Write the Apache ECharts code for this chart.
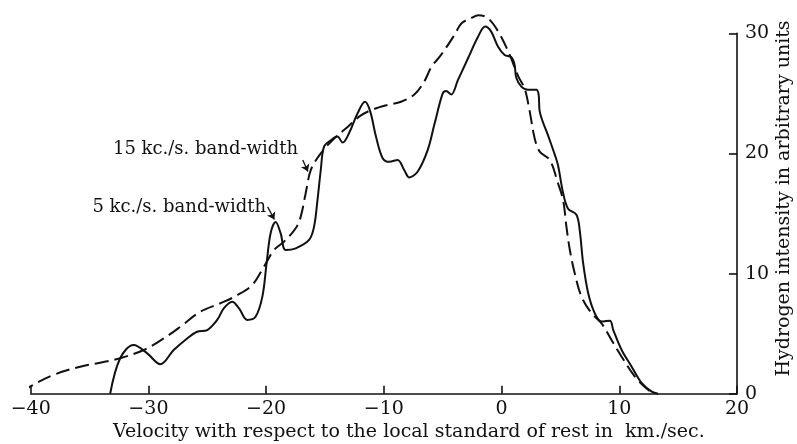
<!DOCTYPE html>
<html>
<head>
<meta charset="utf-8">
<script src="https://cdn.jsdelivr.net/npm/echarts@6/dist/echarts.min.js"></script>
<style>html,body{margin:0;padding:0;background:#fff}#c{width:797px;height:444px}</style>
</head>
<body>
<div id="c"></div>
<script>
// 5 kc./s. band-width (solid)
const solidX = [-33.25,-32.4,-31.26,-30.1,-28.99,-27.85,-26.71,-25.86,-25.0,-24.16,-23.6,-22.88,-22.3,-21.6,-20.9,-20.32,-19.96,-19.62,-19.19,-18.77,-18.34,-17.49,-16.35,-15.93,-15.64,-15.36,-15.08,-14.5,-13.94,-13.5,-12.95,-12.23,-11.6,-11.16,-10.67,-10.1,-9.54,-8.83,-8.26,-7.84,-7.12,-6.27,-5.71,-5.0,-4.71,-4.28,-3.71,-2.86,-2.01,-1.39,-0.88,-0.31,0.26,0.83,1.1,1.25,1.68,2.25,2.96,3.15,3.24,3.95,4.52,4.8,5.23,5.65,6.36,6.64,6.93,7.36,7.92,8.49,9.2,9.49,10.2,11.05,11.91,12.76,13.3];
const solidY = [0,2.95,4.05,3.36,2.45,3.64,4.6,5.16,5.3,6.14,7.1,7.66,7.1,6.14,6.4,8.08,10.86,13.36,14.3,13.36,11.96,12.1,12.8,13.9,16.1,18.6,20.57,21.1,21.4,20.9,21.7,23.35,24.3,23.5,21.4,19.6,19.3,19.46,18.6,18.0,18.5,20.3,22.4,25.0,25.2,24.9,26.1,27.9,29.7,30.56,30.14,28.9,28.2,28.0,27.4,26.3,25.56,25.3,25.3,24.9,23.5,21.5,19.9,19.0,16.7,15.4,14.9,13.6,10.86,8.36,6.69,6.0,6.08,5.3,3.64,2.25,0.87,0.17,0];
// 15 kc./s. band-width (dashed)
const dashX = [-40.8,-40.06,-38.07,-35.8,-34.1,-32.4,-30.4,-28.7,-27.28,-25.58,-23.88,-22.45,-21.18,-20.19,-19.33,-18.48,-17.49,-17.06,-16.64,-16.2,-15.36,-14.2,-13.08,-12.1,-11.1,-9.68,-8.54,-7.41,-6.56,-5.96,-5.14,-4.0,-3.4,-2.58,-1.98,-1.16,-0.28,0.57,1.43,1.96,2.39,2.81,3.24,4.09,4.8,5.23,5.51,5.8,6.22,6.79,7.64,8.49,9.34,10.2,11.33,12.47,13.0];
const dashY = [0.05,0.58,1.56,2.25,2.58,2.95,3.64,4.6,5.58,6.83,7.53,8.2,9.05,10.57,11.96,12.66,13.77,14.74,16.69,18.63,20.0,21.26,22.2,23.06,23.6,24.04,24.3,24.9,26.0,27.2,28.2,29.87,30.84,31.26,31.5,31.26,30.14,28.48,26.4,25.4,23.5,21.26,20.15,19.46,17.5,16.1,13.9,11.96,10.0,8.08,6.7,5.86,4.47,3.08,1.42,0.3,0];
const xTicks = [-40,-30,-20,-10,0,10,20];
const yTicks = [0,10,20,30];
const label15 = '15 kc./s. band-width';
const label5 = '5 kc./s. band-width';
const xTitle = 'Velocity with respect to the local standard of rest in  km./sec.';
const yTitle = 'Hydrogen intensity in arbitrary units';

const F = 'DejaVu Serif, serif';
const ink = '#111';
const chart = echarts.init(document.getElementById('c'), null, {renderer:'canvas'});
const zip = (a,b)=>a.map((v,i)=>[v,b[i]]);
const fmt = v => (v<0 ? '\u2212'+Math.abs(v) : String(v));
chart.setOption({
  animation:false,
  grid:{left:30.7,right:60,top:33.3,bottom:50.3,containLabel:false,outerBoundsMode:'none'},
  xAxis:{type:'value',min:xTicks[0],max:xTicks[xTicks.length-1],interval:10,
    axisLine:{onZero:false,lineStyle:{color:ink,width:1.6}},
    axisTick:{inside:true,length:8,lineStyle:{color:ink,width:1.6}},
    axisLabel:{color:ink,fontFamily:F,fontSize:19,margin:6,formatter:fmt},
    splitLine:{show:false},
    name:xTitle,nameLocation:'middle',nameGap:29,nameMoveOverlap:false,
    nameTextStyle:{color:ink,fontFamily:F,fontSize:19,padding:[0,0,0,50]}},
  yAxis:{type:'value',position:'right',min:yTicks[0],max:yTicks[yTicks.length-1],interval:10,
    axisLine:{show:true,onZero:false,lineStyle:{color:ink,width:1.6}},
    axisTick:{show:true,inside:true,length:8,lineStyle:{color:ink,width:1.6}},
    axisLabel:{color:ink,fontFamily:F,fontSize:19,margin:8},
    splitLine:{show:false},
    name:yTitle,nameLocation:'middle',nameGap:38,nameRotate:90,nameMoveOverlap:false,
    nameTextStyle:{color:ink,fontFamily:F,fontSize:19,padding:[0,0,0,30]}},
  series:[
    {type:'line',data:zip(solidX,solidY),smooth:0.35,showSymbol:false,clip:false,
     lineStyle:{color:ink,width:2},
     markLine:{silent:true,symbol:['none','arrow'],symbolSize:7,label:{show:false},
       lineStyle:{color:ink,width:1.3,type:'solid'},
       data:[[{coord:[-19.87,15.55]},{coord:[-19.3,14.5]}]]}},
    {type:'line',data:zip(dashX,dashY),smooth:0.35,showSymbol:false,clip:false,
     lineStyle:{color:ink,width:2,type:[14,6]},
     markLine:{silent:true,symbol:['none','arrow'],symbolSize:7,label:{show:false},
       lineStyle:{color:ink,width:1.3,type:'solid'},
       data:[[{coord:[-16.89,19.46]},{coord:[-16.45,18.5]}]]}}
  ],
  graphic:[
    {type:'text',right:797-298,top:140,style:{text:label15,font:'18px '+F,fill:ink}},
    {type:'text',right:797-266,top:198,style:{text:label5,font:'18px '+F,fill:ink}}
  ]
});
</script>
</body>
</html>
